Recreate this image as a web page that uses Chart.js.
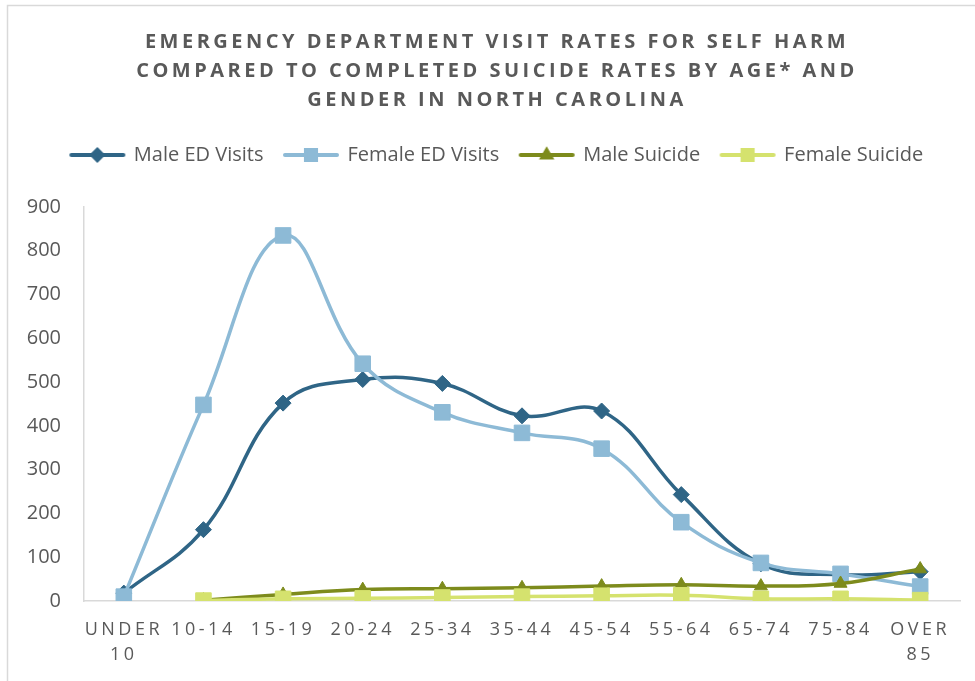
<!DOCTYPE html>
<html>
<head>
<meta charset="utf-8">
<script src="https://cdn.jsdelivr.net/npm/chart.js@4/dist/chart.umd.min.js"></script>
<style>
  body { margin: 0; background: #fff; }
  canvas { display: block; }
</style>
</head>
<body>
<canvas id="grafico" width="975" height="681"></canvas>
<script>
// faixas etarias e taxas
const ageGroups = [["UNDER", "10"], "10-14", "15-19", "20-24", "25-34", "35-44", "45-54", "55-64", "65-74", "75-84", ["OVER", "85"]];
const maleED = [18, 163, 452, 506, 497, 423, 434, 243, 85, 60, 67];
const femaleED = [10, 448, 835, 542, 431, 384, 348, 180, 87, 62, 33];
const maleSuicide = [null, 2, 15, 26, 28, 30, 34, 37, 34, 40, 73];
const femaleSuicide = [null, 1, 5, 6, 8, 10, 12, 13, 5, 5, 2];
const yTicks = [0, 100, 200, 300, 400, 500, 600, 700, 800, 900];

const titleLines = [
  "EMERGENCY DEPARTMENT VISIT RATES FOR SELF HARM",
  "COMPARED TO COMPLETED SUICIDE RATES BY AGE* AND",
  "GENDER IN NORTH CAROLINA"
];

const cinza = "#595959";
Chart.defaults.font.family = "'Open Sans', sans-serif";
Chart.defaults.color = cinza;

function serie(label, data, cor, estilo, raio, ordem) {
  return {
    label, data,
    borderColor: cor, backgroundColor: cor,
    pointBackgroundColor: cor, pointBorderColor: cor,
    borderWidth: 3.5, tension: 0.4,
    pointStyle: estilo, pointRadius: raio, pointHoverRadius: raio, pointBorderWidth: 1,
    order: ordem
  };
}

// icone da legenda: linha com o marcador no meio
function iconeLegenda(ds) {
  const c = document.createElement("canvas");
  c.width = 60; c.height = 18;
  const ctx = c.getContext("2d");
  ctx.strokeStyle = ds.borderColor;
  ctx.fillStyle = ds.borderColor;
  ctx.lineWidth = 4;
  ctx.lineCap = "round";
  ctx.beginPath();
  ctx.moveTo(4, 9);
  ctx.lineTo(56, 9);
  ctx.stroke();
  Chart.helpers.drawPoint(ctx, { pointStyle: ds.pointStyle, radius: ds.pointRadius * 0.65, borderWidth: 1, rotation: 0 }, 30, 9);
  return c;
}

// caixas vazias para acertar margens do layout
function espacador(id, posicao, tamanho, peso) {
  return {
    id,
    beforeInit(chart) {
      const horizontal = posicao === "top" || posicao === "bottom";
      Chart.layouts.addBox(chart, {
        position: posicao, weight: peso, fullSize: horizontal, options: {},
        width: 0, height: 0, left: 0, top: 0, right: 0, bottom: 0,
        isHorizontal() { return horizontal; },
        update(maxWidth, maxHeight) {
          this.width = horizontal ? maxWidth : tamanho;
          this.height = horizontal ? tamanho : maxHeight;
        },
        draw() {}
      });
    }
  };
}

// espacamento entre letras do titulo e do eixo x
function comEspaco(obj, metodo, valor) {
  if (!obj || obj["_esp_" + metodo]) return;
  const orig = obj[metodo];
  obj[metodo] = function (...args) {
    const ctx = this.ctx;
    ctx.save();
    ctx.letterSpacing = valor;
    orig.apply(this, args);
    ctx.restore();
  };
  obj["_esp_" + metodo] = true;
}

const espacoLetras = {
  id: "espacoLetras",
  afterLayout(chart) {
    comEspaco(chart.scales.x, "drawLabels", "3.5px");
    comEspaco(chart.titleBlock, "draw", "3.5px");
  }
};

const moldura = {
  id: "moldura",
  beforeDraw(chart) {
    const ctx = chart.ctx;
    ctx.save();
    ctx.strokeStyle = "#d9d9d9";
    ctx.lineWidth = 1.5;
    ctx.strokeRect(7.5, 5.5, 1200, 1200);
    ctx.restore();
  }
};

const ctx = document.getElementById("grafico").getContext("2d");
new Chart(ctx, {
  type: "line",
  data: {
    labels: ageGroups,
    datasets: [
      serie("Male ED Visits", maleED, "#2F6586", "rectRot", 8, 4),
      serie("Female ED Visits", femaleED, "#8DBAD6", "rect", 11, 3),
      serie("Male Suicide", maleSuicide, "#7D8B1C", "triangle", 7.5, 2),
      serie("Female Suicide", femaleSuicide, "#D5E26E", "rect", 11, 1)
    ]
  },
  options: {
    responsive: false,
    animation: false,
    layout: { padding: { left: 20, right: 1, top: 0, bottom: 0 } },
    plugins: {
      title: {
        display: true,
        text: titleLines,
        color: cinza,
        font: { size: 20, weight: "bold", lineHeight: 29 / 20 },
        padding: { top: 28, bottom: 9 }
      },
      legend: {
        display: true,
        position: "top",
        labels: {
          usePointStyle: true,
          pointStyleWidth: 53,
          padding: 21,
          color: cinza,
          font: { size: 20 },
          generateLabels(chart) {
            return chart.data.datasets.map((ds, i) => ({
              text: ds.label,
              fillStyle: ds.borderColor,
              strokeStyle: ds.borderColor,
              lineWidth: 0,
              pointStyle: iconeLegenda(ds),
              fontColor: cinza,
              hidden: false,
              datasetIndex: i
            }));
          }
        }
      },
      tooltip: { enabled: false }
    },
    scales: {
      x: {
        offset: true,
        grid: { display: false, drawTicks: false },
        border: { display: true, color: "#d9d9d9", width: 1.5 },
        ticks: {
          autoSkip: false, maxRotation: 0, padding: 17,
          color: cinza, font: { size: 18, lineHeight: 1.35 }
        },
        afterFit(scale) { scale.height = 80; }
      },
      y: {
        min: 0, max: 900,
        afterBuildTicks(scale) { scale.ticks = yTicks.map(v => ({ value: v })); },
        grid: { display: false, drawTicks: false },
        border: { display: true, color: "#d9d9d9", width: 1.5 },
        ticks: { padding: 23, color: cinza, font: { size: 20 } },
        afterFit(scale) { scale.width = 64; }
      }
    }
  },
  plugins: [espacador("espacoTopo", "top", 32, 900), espacador("espacoDireita", "right", 14, 0), espacoLetras, moldura]
});
</script>
</body>
</html>
